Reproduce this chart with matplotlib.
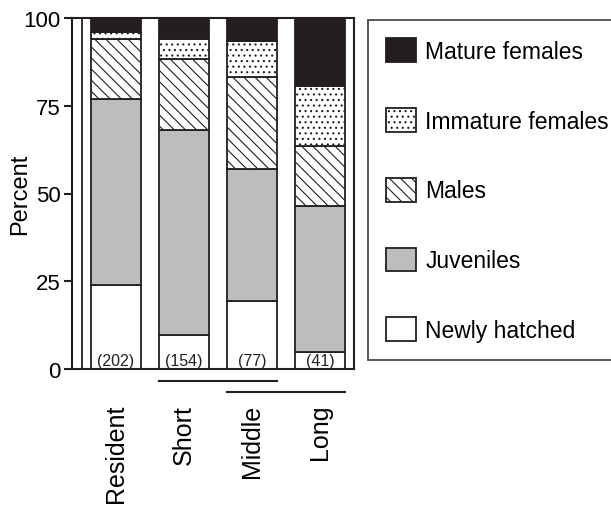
import matplotlib
matplotlib.use("Agg")
import matplotlib.pyplot as plt
from matplotlib.patches import Patch
from matplotlib.transforms import blended_transform_factory

plt.rcParams["font.family"] = ["Liberation Sans", "DejaVu Sans"]
plt.rcParams["hatch.linewidth"] = 0.8

# ----------------------------- DATA -----------------------------
GROUPS = ["Resident", "Short", "Middle", "Long"]
COUNTS = ["(202)", "(154)", "(77)", "(41)"]
# percent of each class, stacked bottom -> top
NEWLY = [23.8, 9.7, 19.5, 4.9]
JUVENILES = [53.0, 58.4, 37.6, 41.5]
MALES = [17.3, 20.2, 26.0, 17.1]
IMMATURE = [2.0, 5.8, 10.4, 17.0]
MATURE = [3.9, 5.9, 6.5, 19.5]

SERIES = [("Newly hatched", NEWLY), ("Juveniles", JUVENILES), ("Males", MALES),
          ("Immature females", IMMATURE), ("Mature females", MATURE)]
STYLE = {"Newly hatched": dict(facecolor="white", hatch=None),
         "Juveniles": dict(facecolor="#bbbdbf", hatch=None),
         "Males": dict(facecolor="white", hatch="\\\\\\"),
         "Immature females": dict(facecolor="white", hatch="..."),
         "Mature females": dict(facecolor="#231f20", hatch=None)}
YTICKS = [0, 25, 50, 75, 100]

BAR_W = 0.74
EDGE = "#231f20"

fig = plt.figure(figsize=(6.11, 5.06), dpi=100)
ax = fig.add_axes([72 / 611, 1 - 370 / 506, 282 / 611, 351 / 506])

x = list(range(len(GROUPS)))
bottom = [0.0] * len(GROUPS)
for name, vals in SERIES:
    st = STYLE[name]
    ax.bar(x, vals, bottom=bottom, width=BAR_W, facecolor=st["facecolor"],
           hatch=st["hatch"], edgecolor=EDGE, linewidth=1.3, zorder=2)
    bottom = [b + v for b, v in zip(bottom, vals)]

for xi, c in zip(x, COUNTS):
    ax.text(xi, 2.4, c, ha="center", va="center", fontsize=11.5, color=EDGE, zorder=3)

ax.set_xlim(-0.647, 3.5)
ax.set_ylim(0, 100)
ax.axvline(-0.5, color=EDGE, lw=1.3, zorder=1)
for s in ax.spines.values():
    s.set_linewidth(1.5)
    s.set_color(EDGE)

ax.set_yticks(YTICKS)
ax.tick_params(axis="y", labelsize=16, length=6, width=1.5, pad=2, color=EDGE)
ax.set_ylabel("Percent", fontsize=17)
ax.yaxis.set_label_coords(-0.145, 0.5)
ax.set_xticks(x)
ax.set_xticklabels(GROUPS, rotation=90, fontsize=18)
ax.tick_params(axis="x", length=0, pad=25)

# brackets grouping the migration distances
tr = blended_transform_factory(ax.transData, ax.transAxes)
ax.plot([1 - BAR_W / 2, 2 + BAR_W / 2], [-0.034, -0.034], color=EDGE, lw=1.5,
        transform=tr, clip_on=False)
ax.plot([2 - BAR_W / 2, 3 + BAR_W / 2], [-0.066, -0.066], color=EDGE, lw=1.5,
        transform=tr, clip_on=False)

handles = [Patch(facecolor=STYLE[n]["facecolor"], hatch=STYLE[n]["hatch"],
                 edgecolor=EDGE, linewidth=1.3, label=n) for n, _ in SERIES[::-1]]
leg = fig.legend(handles=handles, loc="upper left", bbox_to_anchor=(368 / 611, 1 - 21 / 506),
                 frameon=True, fancybox=False, fontsize=16.5, handlelength=1.3,
                 handleheight=1.22, labelspacing=1.97, handletextpad=0.4,
                 borderpad=0.8, borderaxespad=0)
leg.get_frame().set_edgecolor(EDGE)
leg.get_frame().set_linewidth(1.3)

fig.savefig("out.png", dpi=100)
